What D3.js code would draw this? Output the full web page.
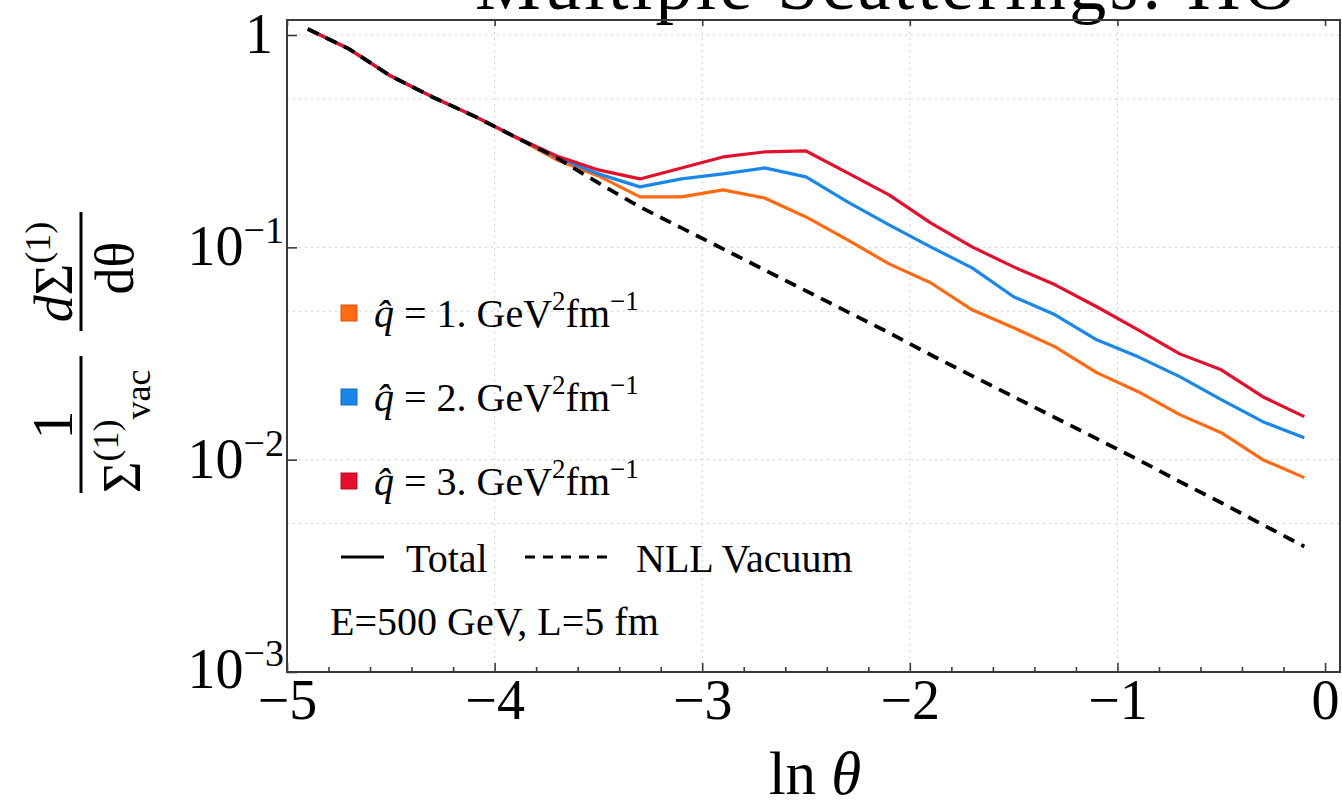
<!DOCTYPE html>
<html><head><meta charset="utf-8">
<script src="https://cdn.jsdelivr.net/npm/d3@7"></script>
<style>html,body{margin:0;padding:0;background:#fff;overflow:hidden}</style>
</head><body>
<script>
// ---------------- data ----------------
const lnTheta = [-4.9,-4.7,-4.5,-4.3,-4.1,-3.9,-3.7,-3.5,-3.3,-3.1,-2.9,-2.7,-2.5,-2.3,-2.1,-1.9,-1.7,-1.5,-1.3,-1.1,-0.9,-0.7,-0.5,-0.3,-0.1];
const vacuumNLL = [1.067,0.859,0.641,0.511,0.416,0.331,0.264,0.201,0.155,0.1235,0.0984,0.0783,0.0624,0.0497,0.0396,0.0312,0.0248,0.0198,0.01576,0.01256,0.0100,0.00788,0.00627,0.00494,0.00390];
const totalQ1 = [1.067,0.859,0.641,0.511,0.416,0.331,0.258,0.217,0.1728,0.173,0.1865,0.1709,0.1391,0.1085,0.0836,0.0681,0.0508,0.0418,0.0340,0.0257,0.0209,0.0163,0.0134,0.0100,0.00823];
const totalQ2 = [1.067,0.859,0.641,0.511,0.416,0.331,0.2665,0.2218,0.1927,0.210,0.2218,0.2366,0.2147,0.1637,0.1276,0.1005,0.0801,0.0585,0.0481,0.0367,0.0305,0.0246,0.01916,0.0151,0.0127];
const totalQ3 = [1.067,0.859,0.641,0.511,0.416,0.331,0.2695,0.2316,0.210,0.2366,0.2666,0.2814,0.2844,0.2242,0.1767,0.1304,0.1005,0.0809,0.0666,0.0525,0.0409,0.0315,0.0265,0.0198,0.01594];
const seriesNames = ["1.", "2.", "3."];
const seriesColors = ["#ff6a13", "#1a86e8", "#e2102c"];
const xMajorTicks = [-5,-4,-3,-2,-1,0];
const xTickLabels = ["\u22125","\u22124","\u22123","\u22122","\u22121","0"];
const yMajorTicks = [1,0.1,0.01,0.001];
const yTickExp = ["","\u22121","\u22122","\u22123"];
const xGrid = [-4,-3,-2,-1];
const yGrid = [1,0.5,0.1,0.05,0.01,0.005];

// ---------------- layout ----------------
const W = 1342, H = 808;
const L = 287, R = 1340, T = 20, B = 672;
const serif = "'Liberation Serif','Times New Roman',serif";

const svg = d3.select("body").append("svg").attr("width", W).attr("height", H)
  .style("font-family", serif);
svg.append("rect").attr("width", W).attr("height", H).attr("fill", "#fff");

const x = d3.scaleLinear().domain([-5, 0.072]).range([L, R]);
const y = d3.scaleLog().domain([0.001, 1.177]).range([B, T]);

// title (mostly cut off at the top)
svg.append("text").attr("x", 475).attr("y", 9)
  .attr("font-size", 74).attr("textLength", 822).attr("lengthAdjust", "spacing")
  .text("Multiple Scatterings: HO");

// grid
const grid = svg.append("g");
grid.selectAll("line.gx").data(xGrid).join("line")
  .attr("x1", d => x(d)).attr("x2", d => x(d)).attr("y1", T).attr("y2", B)
  .attr("stroke", "#cfcfcf").attr("stroke-width", 1).attr("stroke-dasharray", "2,4");
grid.selectAll("line.gy").data(yGrid).join("line")
  .attr("x1", L).attr("x2", R).attr("y1", d => y(d)).attr("y2", d => y(d))
  .attr("stroke", "#cfcfcf").attr("stroke-width", 1).attr("stroke-dasharray", "2,4");

// clip
svg.append("clipPath").attr("id", "clip").append("rect")
  .attr("x", L).attr("y", T).attr("width", R - L).attr("height", B - T);

const line = d3.line().x((d, i) => x(lnTheta[i])).y(d => y(d));
const plot = svg.append("g").attr("clip-path", "url(#clip)");
[totalQ1, totalQ2, totalQ3].forEach((s, k) => {
  plot.append("path").datum(s).attr("d", line)
    .attr("fill", "none").attr("stroke", seriesColors[k]).attr("stroke-width", 3.2)
    .attr("stroke-linejoin", "round");
});
plot.append("path").datum(vacuumNLL).attr("d", line)
  .attr("fill", "none").attr("stroke", "#000").attr("stroke-width", 3.8)
  .attr("stroke-dasharray", "12,8");

// axes / frame
const frameColor = "#3a3a3a";
const xMinor = d3.range(-5, 0.001, 0.2).map(v => +v.toFixed(1)).filter(v => !xMajorTicks.includes(v));
const axB = svg.append("g").attr("transform", `translate(0,${B})`)
  .call(d3.axisBottom(x).tickValues(xMajorTicks).tickSize(-9).tickSizeOuter(0).tickFormat((d, i) => xTickLabels[i]));
const axBm = svg.append("g").attr("transform", `translate(0,${B})`)
  .call(d3.axisBottom(x).tickValues(xMinor).tickSize(-5).tickSizeOuter(0).tickFormat(""));
const axT = svg.append("g").attr("transform", `translate(0,${T})`)
  .call(d3.axisTop(x).tickValues(xMajorTicks).tickSize(-6).tickSizeOuter(0).tickFormat(""));
const axL = svg.append("g").attr("transform", `translate(${L},0)`)
  .call(d3.axisLeft(y).tickValues(yMajorTicks).tickSize(-10).tickSizeOuter(0).tickFormat(""));
[axB, axBm, axT, axL].forEach(g => {
  g.select(".domain").remove();
  g.selectAll(".tick line").attr("stroke", frameColor).attr("stroke-width", 1.6);
});
axB.selectAll(".tick text").attr("font-family", serif).attr("font-size", 56)
  .attr("fill", "#000").attr("y", 0).attr("dy", 0)
  .attr("transform", "translate(0,47)");

svg.append("rect").attr("x", L).attr("y", T).attr("width", R - L).attr("height", B - T)
  .attr("fill", "none").attr("stroke", frameColor).attr("stroke-width", 2);

// y tick labels
const ylab = svg.append("g");
yMajorTicks.forEach((v, i) => {
  const t = ylab.append("text").attr("x", 0).attr("y", y(v) + (i === 3 ? 16 : 18))
    .attr("font-size", 56).attr("fill", "#000").attr("text-anchor", "end");
  if (i === 0) {
    t.attr("x", 273).text("1");
  } else {
    t.attr("x", 284);
    t.append("tspan").text("10");
    t.append("tspan").attr("font-size", 38).attr("dy", -22).text(yTickExp[i]);
  }
});

// x axis label
const xl = svg.append("text").attr("x", 815).attr("y", 794).attr("text-anchor", "middle")
  .attr("font-size", 61);
xl.append("tspan").text("ln ");
xl.append("tspan").attr("font-style", "italic").text("\u03b8");

// y axis label (rotated): u = -screenY, v = screenX
const yl = svg.append("g").attr("transform", "rotate(-90)");
// fraction 1: 1 / Σ(1)vac
yl.append("text").attr("x", -425).attr("y", 72).attr("text-anchor", "middle")
  .attr("font-size", 58).text("1");
yl.append("line").attr("x1", -493).attr("x2", -356).attr("y1", 81).attr("y2", 81)
  .attr("stroke", "#000").attr("stroke-width", 3);
const den1 = yl.append("text").attr("x", -493).attr("y", 140).attr("font-size", 54);
den1.append("tspan").text("\u03a3");
den1.append("tspan").attr("font-size", 36).attr("dy", -22).text("(1)");
den1.append("tspan").attr("font-size", 36).attr("dy", 32).text("vac");
// fraction 2: dΣ(1) / dθ
const num2 = yl.append("text").attr("x", -272).attr("y", 72).attr("text-anchor", "middle")
  .attr("font-size", 54);
num2.append("tspan").attr("font-style", "italic").text("d");
num2.append("tspan").text("\u03a3");
num2.append("tspan").attr("font-size", 36).attr("dy", -22).text("(1)");
yl.append("line").attr("x1", -331).attr("x2", -212).attr("y1", 81).attr("y2", 81)
  .attr("stroke", "#000").attr("stroke-width", 3);
yl.append("text").attr("x", -268).attr("y", 133).attr("text-anchor", "middle")
  .attr("font-size", 54).text("d\u03b8");

// legend
const leg = svg.append("g");
const legRowsY = [327, 411, 495];
seriesNames.forEach((nm, i) => {
  leg.append("rect").attr("x", 341).attr("y", legRowsY[i] - 22).attr("width", 16).attr("height", 16)
    .attr("fill", seriesColors[i]).attr("stroke", d3.color(seriesColors[i]).darker(0.6)).attr("stroke-width", 1);
  const t = leg.append("text").attr("x", 374).attr("y", legRowsY[i]).attr("font-size", 40);
  t.append("tspan").attr("font-style", "italic").text("q\u0302");
  t.append("tspan").text(" = " + nm + " GeV");
  t.append("tspan").attr("font-size", 27).attr("dy", -17).text("2");
  t.append("tspan").attr("dy", 17).text("fm");
  t.append("tspan").attr("font-size", 27).attr("dy", -17).text("\u22121");
});
leg.append("line").attr("x1", 341).attr("x2", 384).attr("y1", 557).attr("y2", 557)
  .attr("stroke", "#000").attr("stroke-width", 3);
leg.append("text").attr("x", 406).attr("y", 572).attr("font-size", 40).text("Total");
leg.append("line").attr("x1", 525).attr("x2", 608).attr("y1", 557).attr("y2", 557)
  .attr("stroke", "#000").attr("stroke-width", 3).attr("stroke-dasharray", "10,8");
leg.append("text").attr("x", 636).attr("y", 572).attr("font-size", 40).text("NLL Vacuum");
leg.append("text").attr("x", 330).attr("y", 635).attr("font-size", 40).text("E=500 GeV, L=5 fm");
</script>
</body></html>
